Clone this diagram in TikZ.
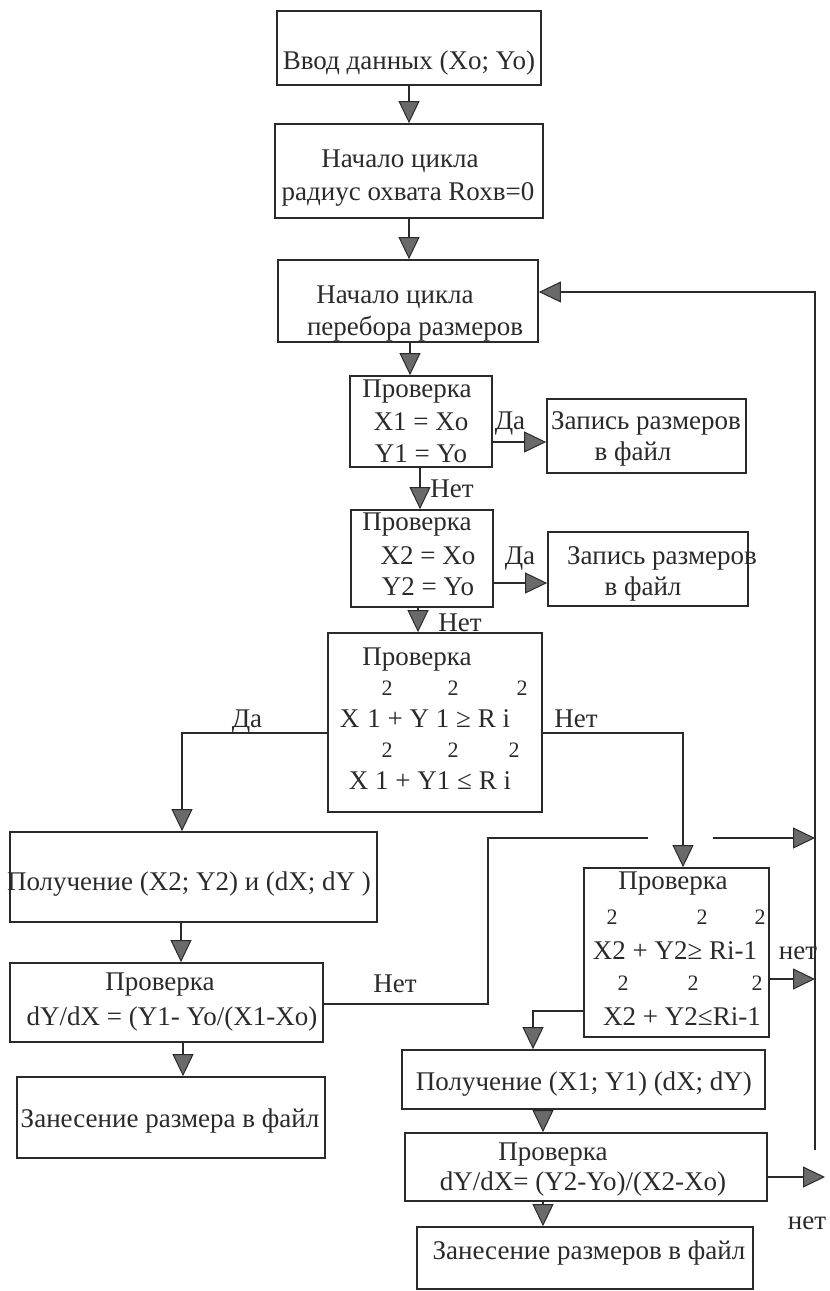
\documentclass[tikz,border=0pt]{standalone}
\usepackage{fontspec}
\setmainfont{Liberation Serif}
\usetikzlibrary{arrows.meta,calc}
\definecolor{ink}{HTML}{2A2A2A}
\definecolor{headfill}{HTML}{6A6A6A}
\tikzset{
  box/.style={draw=ink, line width=1.8pt, rectangle, inner sep=0pt},
  txt/.style={text=ink, font=\fontsize{27}{33}\selectfont, inner sep=0pt, text height=19pt, text depth=5pt},
  sup/.style={text=ink, font=\fontsize{22}{26}\selectfont, inner sep=0pt, text height=15pt, text depth=0pt},
  conn/.style={draw=ink, line width=1.8pt},
  arr/.style={conn, -{Triangle[length=22pt,width=21pt,fill=headfill,line width=1pt]}},
}
\newcommand\mkbox[5]{%
  \node[box, minimum width={(#4-#2)*1pt}, minimum height={(#5-#3)*1pt}] (#1) at ({(#2+#4)/2},{(#3+#5)/2}) {};}
\begin{document}
\begin{tikzpicture}[x=1pt,y=-1pt]
\useasboundingbox (0,0) rectangle (830,1291);
% boxes
\mkbox{b1}{277}{11}{541}{85}
\mkbox{b2}{275}{124}{543}{218}
\mkbox{b3}{278}{260}{538}{342}
\mkbox{c1}{350}{376}{492}{467}
\mkbox{z1}{547}{399}{746}{473}
\mkbox{c2}{351}{510}{493}{607}
\mkbox{z2}{548}{532}{748}{606}
\mkbox{c3}{328}{633}{542}{812}
\mkbox{p1}{10}{832}{377}{922}
\mkbox{c5}{10}{963}{323}{1042}
\mkbox{e1}{17}{1077}{325}{1158}
\mkbox{c4}{584}{868}{769}{1037}
\mkbox{p2}{402}{1050}{765}{1109}
\mkbox{c6}{405}{1133}{767}{1201}
\mkbox{e2}{417}{1227}{753}{1289}
% texts
\node[txt] (t1) at (409,62) {Ввод данных (Xo; Yo)};
\node[txt] (t2a) at (400,160) {Начало цикла};
\node[txt] (t2b) at (408,193) {радиус охвата Rохв=0};
\node[txt] (t3a) at (395,296) {Начало цикла};
\node[txt] (t3b) at (415,328) {перебора размеров};
\node[txt] (c1a) at (417,390) {Проверка};
\node[txt] (c1b) at (421,423) {X1 = Xo};
\node[txt] (c1c) at (421,455) {Y1 = Yo};
\node[txt] (da1) at (510,422) {Да};
\node[txt] (z1a) at (646,422) {Запись размеров};
\node[txt] (z1b) at (633,453) {в файл};
\node[txt] (net1) at (452,490) {Нет};
\node[txt] (c2a) at (417,523) {Проверка};
\node[txt] (c2b) at (428,557) {X2 = Xo};
\node[txt] (c2c) at (428,588) {Y2 = Yo};
\node[txt] (da2) at (520,557) {Да};
\node[txt] (z2a) at (662,557) {Запись размеров};
\node[txt] (z2b) at (643,588) {в файл};
\node[txt] (net2) at (460,624) {Нет};
\node[txt] (c3a) at (417,658) {Проверка};
\node[sup] (c3s1) at (387,688) {2};
\node[sup] (c3s2) at (453,688) {2};
\node[sup] (c3s3) at (522,688) {2};
\node[txt] (c3b) at (425,720) {X\hspace{8pt}1 + Y 1 ≥ R i};
\node[sup] (c3s4) at (387,750) {2};
\node[sup] (c3s5) at (453,750) {2};
\node[sup] (c3s6) at (514,750) {2};
\node[txt] (c3c) at (430,782) {X 1 + Y1 ≤ R i};
\node[txt] (da3) at (247,720) {Да};
\node[txt] (net3) at (576,720) {Нет};
\node[txt] (p1t) at (189,883) {Получение (X2; Y2) и (dX; dY )};
\node[txt] (c5a) at (160,983) {Проверка};
\node[txt] (c5b) at (172,1018) {dY/dX = (Y1- Yo/(X1-Xo)};
\node[txt] (net5) at (395,985) {Нет};
\node[txt] (e1t) at (170,1120) {Занесение размера в файл};
\node[txt] (c4a) at (673,882) {Проверка};
\node[sup] (c4s1) at (612,917) {2};
\node[sup] (c4s2) at (702,917) {2};
\node[sup] (c4s3) at (760,917) {2};
\node[txt] (c4b) at (675,952) {X2 + Y2≥ Ri-1};
\node[sup] (c4s4) at (623,983) {2};
\node[sup] (c4s5) at (693,983) {2};
\node[sup] (c4s6) at (757,983) {2};
\node[txt] (c4c) at (682,1018) {X2 + Y2≤Ri-1};
\node[txt] (net4) at (798,952) {нет};
\node[txt] (p2t) at (584,1083) {Получение (X1; Y1) (dX; dY)};
\node[txt] (c6a) at (553,1153) {Проверка};
\node[txt] (c6b) at (583,1183) {dY/dX= (Y2-Yo)/(X2-Xo)};
\node[txt] (net6) at (807,1222) {нет};
\node[txt] (e2t) at (589,1252) {Занесение размеров в файл};
% helper coordinates
\coordinate (y292) at (0,292);
\coordinate (y442) at (0,442);
\coordinate (y583) at (0,583);
\coordinate (y733) at (0,733);
\coordinate (y979) at (0,979);
\coordinate (y1011) at (0,1011);
\coordinate (y1177) at (0,1177);
\coordinate (x181) at (181,0);
\coordinate (x183) at (183,0);
\coordinate (x410) at (410,0);
\coordinate (x420) at (420,0);
\coordinate (x418) at (418,0);
\coordinate (x543) at (543,0);
\coordinate (da3c) at (182,733);
\coordinate (net3c) at (683,733);
\coordinate (c4lc) at (533,1011);
\coordinate (n5a) at (488,1004);
\coordinate (n5b) at (488,838);
\coordinate (n5c) at (648,838);
\coordinate (n5d) at (713,838);
\coordinate (rtop) at (815,292);
\coordinate (rbot) at (815,1150);
\coordinate (rmid) at (815,838);
\coordinate (c6end) at (825,1177);
% connectors
\draw[arr] (b1.south) -- (b1.south |- b2.north);
\draw[arr] (b2.south) -- (b2.south |- b3.north);
\draw[arr] (x410 |- b3.south) -- (x410 |- c1.north);
\draw[arr] (c1.east |- y442) -- (z1.west |- y442);
\draw[arr] (x420 |- c1.south) -- (x420 |- c2.north);
\draw[arr] (c2.east |- y583) -- (z2.west |- y583);
\draw[arr] (x418 |- c2.south) -- (x418 |- c3.north);
\draw[arr] (c3.west |- y733) -- (da3c) -- (da3c |- p1.north);
\draw[arr] (c3.east |- y733) -- (net3c) -- (net3c |- c4.north);
\draw[arr] (x181 |- p1.south) -- (x181 |- c5.north);
\draw[arr] (x183 |- c5.south) -- (x183 |- e1.north);
\draw[conn] (c5.east |- n5a) -- (n5a) -- (n5b) -- (n5c);
\draw[arr] (n5d) -- (rmid);
\draw[arr] (c4.east |- y979) -- (rtop |- y979);
\draw[arr] (c4.west |- y1011) -- (c4lc) -- (c4lc |- p2.north);
\draw[arr] (x543 |- p2.south) -- (x543 |- c6.north);
\draw[arr] (x543 |- c6.south) -- (x543 |- e2.north);
\draw[arr] (c6.east |- y1177) -- (c6end);
\draw[arr] (rbot) -- (rtop) -- (b3.east |- y292);
\end{tikzpicture}
\end{document}
